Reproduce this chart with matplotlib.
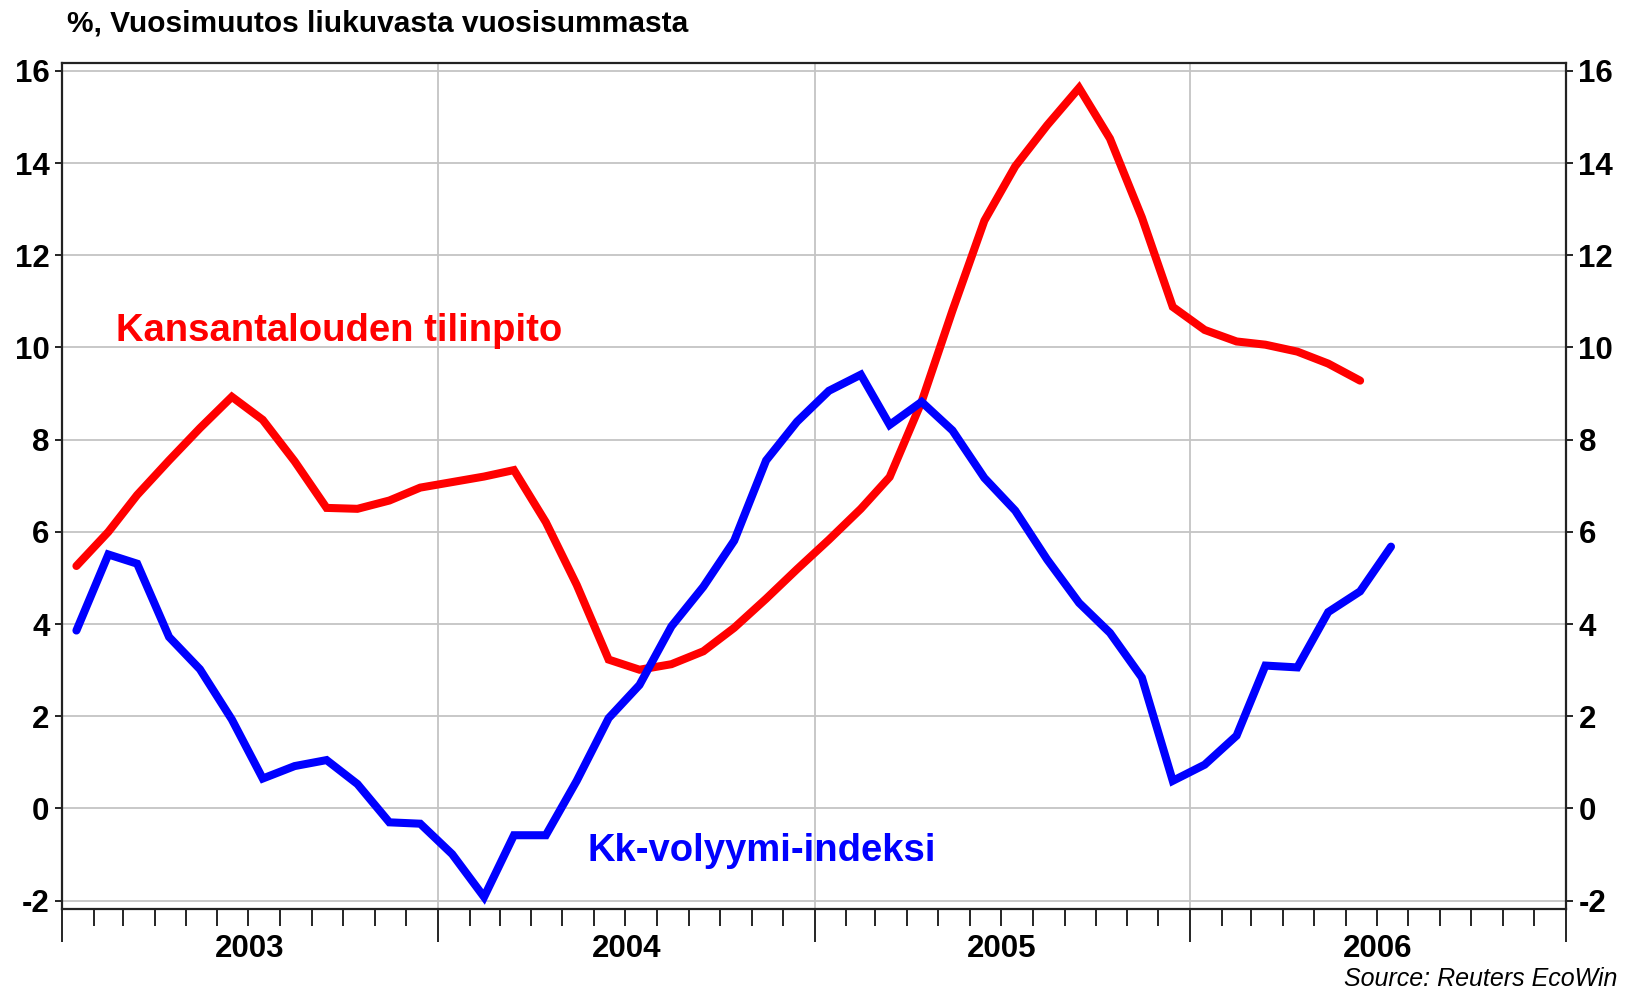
import matplotlib
matplotlib.use("Agg")
import matplotlib.pyplot as plt
import matplotlib.dates as mdates
import matplotlib.transforms as mtransforms
import pandas as pd
import numpy as np

# ---- data ----
start_month = "2003-01"
red_values = [5.26, 6.0, 6.8, 7.55, 8.25, 8.93, 8.43, 7.53, 6.52, 6.50, 6.68, 6.96,
              7.08, 7.2, 7.34, 6.21, 4.85, 3.23, 3.01, 3.13, 3.41, 3.92, 4.55, 5.19,
              5.83, 6.50, 7.19, 8.82, 10.8, 12.75, 13.93, 14.82, 15.63, 14.53, 12.82,
              10.88, 10.38, 10.13, 10.06, 9.91, 9.65, 9.28]
blue_values = [3.86, 5.51, 5.31, 3.72, 3.02, 1.93, 0.65, 0.92, 1.05, 0.53, -0.30, -0.33,
               -0.99, -1.92, -0.58, -0.58, 0.60, 1.96, 2.68, 3.95, 4.81, 5.81, 7.55, 8.39,
               9.06, 9.41, 8.32, 8.82, 8.2, 7.17, 6.46, 5.40, 4.46, 3.81, 2.84, 0.6,
               0.95, 1.58, 3.10, 3.06, 4.26, 4.71, 5.68]
red_label = "Kansantalouden tilinpito"
blue_label = "Kk-volyymi-indeksi"
title_text = "%, Vuosimuutos liukuvasta vuosisummasta"
source_text = "Source: Reuters EcoWin"
years = [2003, 2004, 2005, 2006]
y_ticks = [-2, 0, 2, 4, 6, 8, 10, 12, 14, 16]

red_dates = pd.date_range(start_month, periods=len(red_values), freq="MS") + pd.Timedelta(days=14)
blue_dates = pd.date_range(start_month, periods=len(blue_values), freq="MS") + pd.Timedelta(days=14)

plt.rcParams['font.family'] = ['Liberation Sans', 'DejaVu Sans']

fig = plt.figure(figsize=(16.27, 9.92), dpi=100)
ax = fig.add_axes([62/1627, 1-909/992, (1566-62)/1627, (909-63)/992])

ax.plot(red_dates, red_values, color="#ff0000", lw=5.8, solid_capstyle="round", solid_joinstyle="miter", zorder=3)
ax.plot(blue_dates, blue_values, color="#0000ff", lw=5.8, solid_capstyle="round", solid_joinstyle="miter", zorder=3)

ax.set_xlim(pd.Timestamp("2003-01-01"), pd.Timestamp("2007-01-01"))
ax.set_ylim(-2.18, 16.17)

ax.set_yticks(y_ticks)
ax.set_yticklabels([str(v) for v in y_ticks], fontsize=22.5, fontweight="bold")
ax.tick_params(axis="y", which="both", direction="out", length=5, width=1.2,
               left=True, right=True, labelleft=True, labelright=True, pad=4)

ax.xaxis.set_major_locator(mdates.YearLocator())
ax.xaxis.set_minor_locator(mdates.MonthLocator())
ax.xaxis.set_major_formatter(plt.NullFormatter())
ax.tick_params(axis="x", which="major", direction="out", length=24, width=1.2)
ax.tick_params(axis="x", which="minor", direction="out", length=12, width=1.2)

ax.grid(True, which="major", axis="both", color="#c4c4c4", lw=1.3, zorder=0)

for s in ax.spines.values():
    s.set_linewidth(1.6)
    s.set_color("#222222")

trans = mtransforms.blended_transform_factory(ax.transData, ax.transAxes)
for yr in years:
    ax.text(pd.Timestamp(f"{yr}-07-02"), -0.047, str(yr), transform=trans,
            ha="center", va="center", fontsize=22.5, fontweight="bold")

fig.text(67/1627, 1-23/992, title_text, ha="left", va="center", fontsize=21.5,
         fontweight="bold")

fig.text(116/1627, 1-331/992, red_label, color="#ff0000", ha="left", va="center",
         fontsize=27.5, fontweight="bold")
fig.text(587/1627, 1-851/992, blue_label, color="#0000ff", ha="left", va="center",
         fontsize=27.5, fontweight="bold")

fig.text(1617/1627, 1-979/992, source_text, ha="right", va="center", fontsize=18,
         style="italic")

fig.savefig("out.png", dpi=100)
